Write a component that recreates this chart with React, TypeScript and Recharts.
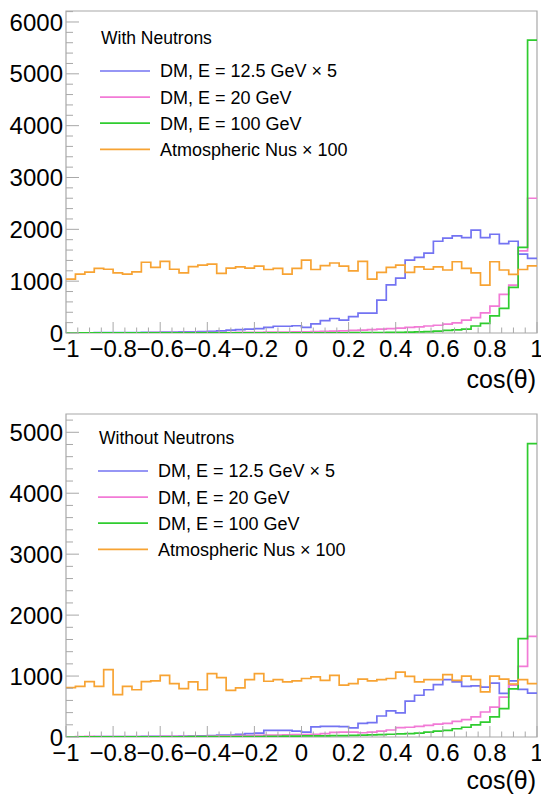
import React from 'react';
import { LineChart, Line, XAxis, YAxis, ReferenceArea } from 'recharts';

// 50 bins of cos(theta) from -1 to 1, each bin 0.04 wide; the last edge repeats the last bin
const binEdges = Array.from({ length: 51 }, (_, i) => Math.round((-1 + i * 0.04) * 100) / 100);

// "With Neutrons"
const topBlue = [
  3, 4, 5, 6, 8, 8, 10, 9, 12, 14, 15, 18, 20, 24, 28, 32, 40, 55, 65, 75,
  85, 110, 130, 130, 140, 110, 175, 240, 280, 250, 315, 385, 385, 635, 930, 1060, 1405, 1460, 1540, 1770,
  1830, 1875, 1840, 1985, 1840, 1905, 1725, 1770, 1520, 1440,
];
const topPink = [
  2, 2, 3, 3, 3, 4, 4, 5, 5, 6, 6, 7, 7, 8, 8, 9, 10, 10, 11, 12,
  14, 15, 17, 18, 20, 22, 25, 30, 35, 40, 50, 55, 65, 75, 85, 95, 110, 120, 135, 150,
  170, 195, 250, 295, 390, 520, 745, 925, 1585, 2600,
];
const topGreen = [
  1, 1, 1, 1, 1, 2, 2, 2, 2, 2, 2, 2, 3, 3, 3, 3, 3, 3, 3, 4,
  4, 4, 4, 4, 5, 5, 5, 5, 5, 5, 6, 8, 9, 10, 12, 14, 18, 22, 28, 38,
  50, 60, 75, 135, 185, 330, 475, 880, 1650, 5650,
];
const topOrange = [
  1040, 1135, 1175, 1245, 1230, 1160, 1135, 1180, 1365, 1265, 1380, 1230, 1160, 1280, 1310, 1330, 1150, 1250, 1275, 1250,
  1290, 1225, 1245, 1135, 1245, 1405, 1225, 1300, 1350, 1290, 1200, 1380, 1040, 1170, 1265, 1310, 1170, 1275, 1230, 1275,
  1215, 1375, 1245, 1160, 925, 1375, 1215, 1130, 1225, 1295,
];

// "Without Neutrons"
const bottomBlue = [
  3, 3, 4, 5, 5, 6, 7, 8, 9, 10, 11, 12, 14, 16, 18, 22, 30, 32, 45, 55,
  65, 110, 110, 110, 95, 80, 165, 175, 175, 170, 150, 225, 235, 345, 430, 395, 590, 685, 775, 860,
  940, 905, 830, 840, 820, 885, 715, 920, 780, 720,
];
const bottomPink = [
  3, 5, 10, 8, 6, 6, 7, 7, 8, 8, 9, 10, 10, 11, 12, 14, 18, 20, 22, 25,
  28, 30, 32, 35, 38, 40, 45, 55, 75, 80, 80, 70, 80, 95, 115, 155, 160, 175, 190, 210,
  225, 255, 285, 330, 410, 490, 655, 850, 1160, 1650,
];
const bottomGreen = [
  2, 2, 2, 3, 3, 3, 3, 3, 4, 4, 4, 4, 4, 5, 5, 5, 5, 6, 6, 6,
  8, 10, 12, 13, 15, 17, 18, 20, 22, 24, 26, 30, 35, 40, 45, 50, 55, 65, 80, 95,
  110, 135, 160, 200, 245, 330, 465, 790, 1615, 4815,
];
const bottomOrange = [
  810, 830, 910, 830, 1105, 695, 830, 775, 910, 920, 1010, 875, 795, 905, 775, 1040, 975, 765, 805, 940,
  1040, 915, 940, 905, 920, 960, 985, 930, 1010, 850, 875, 950, 920, 940, 960, 1065, 995, 905, 940, 940,
  1025, 930, 1000, 940, 740, 1000, 950, 870, 940, 875,
];

const seriesNames = ['DM, E = 12.5 GeV \u00d7 5', 'DM, E = 20 GeV', 'DM, E = 100 GeV', 'Atmospheric Nus \u00d7 100'];
const seriesColors = ['#7373f2', '#f27ad6', '#2fcc2f', '#f7a333'];
const seriesKeys = ['blue', 'pink', 'green', 'orange'];

const xMajorTicks = [-1, -0.8, -0.6, -0.4, -0.2, 0, 0.2, 0.4, 0.6, 0.8, 1];
const xMajorLabels = ['\u22121', '\u22120.8', '\u22120.6', '\u22120.4', '\u22120.2', '0', '0.2', '0.4', '0.6', '0.8', '1'];
const xTicks = Array.from({ length: 41 }, (_, i) => Math.round((-1 + i * 0.05) * 100) / 100);
const topYTicks = Array.from({ length: 32 }, (_, i) => i * 200);
const bottomYTicks = Array.from({ length: 27 }, (_, i) => i * 200);

const FONT = '"Liberation Sans", Arial, Helvetica, sans-serif';
const FRAME = '#a8a8a8';

const buildRows = (blue: number[], pink: number[], green: number[], orange: number[]) =>
  binEdges.map((x, i) => {
    const k = Math.min(i, blue.length - 1);
    return { x, blue: blue[k], pink: pink[k], green: green[k], orange: orange[k] };
  });

const YTick = (props: any) => {
  const { x, y, payload } = props;
  const major = payload.value % 1000 === 0;
  return (
    <g>
      <line x1={x} y1={y} x2={x + (major ? 13 : 7)} y2={y} stroke={FRAME} strokeWidth={1} />
      {major && (
        <text x={x - 3} y={y} dy="0.36em" textAnchor="end" fontSize={24} fontFamily={FONT} fill="#000">
          {payload.value}
        </text>
      )}
    </g>
  );
};

const XTick = (props: any) => {
  const { x, y, payload } = props;
  const idx = xMajorTicks.findIndex((v) => Math.abs(v - payload.value) < 1e-6);
  const major = idx >= 0;
  return (
    <g>
      <line x1={x} y1={y} x2={x} y2={y - (major ? 11 : 5.5)} stroke={FRAME} strokeWidth={1} />
      {major && (
        <text x={x} y={y + 24} textAnchor="middle" fontSize={24} fontFamily={FONT} fill="#000">
          {xMajorLabels[idx]}
        </text>
      )}
    </g>
  );
};

type PanelProps = {
  rows: any[];
  yMax: number;
  yTicks: number[];
  height: number;
  marginTop: number;
  marginBottom: number;
};

function Panel({ rows, yMax, yTicks, height, marginTop, marginBottom }: PanelProps) {
  return (
    <LineChart
      width={541}
      height={height}
      data={rows}
      margin={{ top: marginTop, right: 4, bottom: marginBottom, left: 0 }}
    >
      <XAxis
        dataKey="x"
        type="number"
        domain={[-1, 1]}
        ticks={xTicks}
        interval={0}
        allowDataOverflow
        axisLine={false}
        tickLine={false}
        tickSize={0}
        tickMargin={0}
        height={40}
        tick={<XTick />}
      />
      <YAxis
        type="number"
        domain={[0, yMax]}
        ticks={yTicks}
        interval={0}
        allowDataOverflow
        axisLine={false}
        tickLine={false}
        tickSize={0}
        tickMargin={0}
        width={66}
        tick={<YTick />}
      />
      <ReferenceArea x1={-1} x2={1} y1={0} y2={yMax} fill="none" stroke={FRAME} strokeWidth={1.2} ifOverflow="visible" />
      {seriesKeys.map((key, i) => (
        <Line
          key={key}
          type="stepAfter"
          dataKey={key}
          stroke={seriesColors[i]}
          strokeWidth={1.7}
          dot={false}
          activeDot={false}
          isAnimationActive={false}
        />
      ))}
    </LineChart>
  );
}

function LegendBox({ title, top, left }: { title: string; top: number; left: number }) {
  return (
    <g fontFamily={FONT} fill="#000">
      <text x={left + 1} y={top} dy="0.36em" fontSize={17.5}>
        {title}
      </text>
      {seriesNames.map((name, i) => {
        const cy = top + 33 + i * 26.1;
        return (
          <g key={name}>
            <line x1={left} y1={cy} x2={left + 50} y2={cy} stroke={seriesColors[i]} strokeWidth={1.7} />
            <text x={left + 60} y={cy} dy="0.36em" fontSize={18}>
              {name}
            </text>
          </g>
        );
      })}
    </g>
  );
}

export default function App() {
  const topRows = buildRows(topBlue, topPink, topGreen, topOrange);
  const bottomRows = buildRows(bottomBlue, bottomPink, bottomGreen, bottomOrange);
  return (
    <div style={{ position: 'absolute', left: 0, top: 0, width: 541, height: 801, background: '#fff', overflow: 'hidden' }}>
      <div style={{ position: 'absolute', left: 0, top: 0 }}>
        <Panel rows={topRows} yMax={6212} yTicks={topYTicks} height={400} marginTop={11} marginBottom={27} />
      </div>
      <div style={{ position: 'absolute', left: 0, top: 400 }}>
        <Panel rows={bottomRows} yMax={5300} yTicks={bottomYTicks} height={401} marginTop={14} marginBottom={24} />
      </div>
      <svg width={541} height={801} style={{ position: 'absolute', left: 0, top: 0, pointerEvents: 'none' }}>
        <LegendBox title="With Neutrons" top={38} left={100} />
        <LegendBox title="Without Neutrons" top={438} left={98} />
        <text x={536} y={388} textAnchor="end" fontSize={25} fontFamily={FONT} fill="#000">
          cos(θ)
        </text>
        <text x={536} y={789} textAnchor="end" fontSize={25} fontFamily={FONT} fill="#000">
          cos(θ)
        </text>
      </svg>
    </div>
  );
}
